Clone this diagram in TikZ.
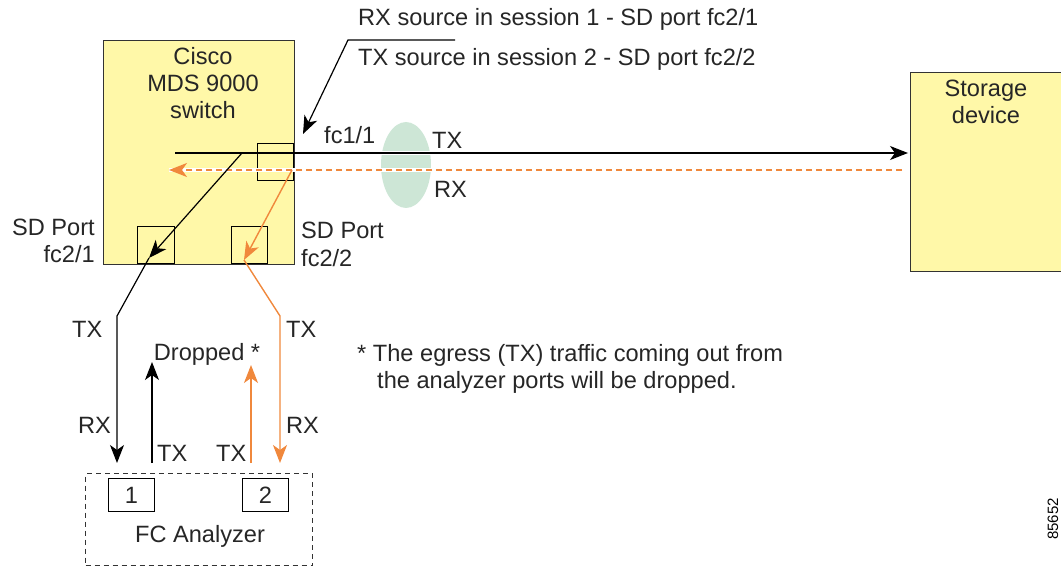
\documentclass[tikz,border=0pt]{standalone}
\usepackage{fontspec}
\setmainfont{Liberation Sans}
\usetikzlibrary{arrows.meta,shapes.geometric}
\definecolor{swyellow}{HTML}{FFF8A8}
\definecolor{ciscoorange}{HTML}{F0883C}
\definecolor{ellgreen}{HTML}{CDE6D6}
\definecolor{edgegray}{HTML}{333333}
\tikzset{
  lbl/.style={font=\fontsize{23.6}{27}\selectfont, inner sep=0pt, text=black!85},
  devbox/.style={draw=edgegray, fill=swyellow, line width=1pt},
  portbox/.style={draw=black, line width=1pt},
  blk/.style={draw=black, line width=1.2pt},
  org/.style={draw=ciscoorange, line width=1.4pt},
  tip/.style={-{Stealth[length=18pt,width=14pt,inset=5pt]}},
  halo/.style={draw=white, line width=4pt},
}
\begin{document}
\begin{tikzpicture}[x=1pt,y=-1pt]
\useasboundingbox (0,0) rectangle (1061,567);
% switch
\node[devbox, minimum width=191pt, minimum height=224pt, inner sep=0pt, anchor=north west] (sw) at (103,40) {};
\node[lbl, align=center, anchor=north] (swl) at (203,47) {Cisco\\MDS 9000\\switch};
\node[portbox, minimum width=36pt, minimum height=37pt, inner sep=0pt, anchor=north west] (p11) at (257,143) {};
\node[portbox, minimum width=37pt, minimum height=37pt, inner sep=0pt, anchor=north west] (p21) at (137,226) {};
\node[portbox, minimum width=36pt, minimum height=37pt, inner sep=0pt, anchor=north west] (p22) at (231,226) {};
% storage
\begin{scope}
\clip (0,0) rectangle (1061,567);
\node[devbox, minimum width=155pt, minimum height=199pt, inner sep=0pt, anchor=north west] (st) at (910,72) {};
\end{scope}
\node[lbl, align=center, anchor=north] (stl) at (986,80) {Storage\\device};
% ellipse
\node[fill=ellgreen, ellipse, minimum width=50pt, minimum height=86pt, inner sep=0pt] (ell) at (406,165) {};
% labels near link
\node[lbl, anchor=base west] (fc11) at (324,144) {fc1/1};
\node[lbl, anchor=base west] (tx0) at (432,149) {TX};
\node[lbl, anchor=base west] (rx0) at (434,197) {RX};
% coordinates for TX / RX link
\coordinate (txs) at (175,153);
\coordinate (txe) at (908,153);
\coordinate (rxs) at (902,170);
\coordinate (rxe) at (169,170);
\coordinate (txb) at (242,153);
\coordinate (rxb) at (292,170);
% halos over ellipse
\draw[halo] (378,153) -- (434,153);
\draw[halo] (rxs) -- (rxe);
% TX line
\draw[blk, tip] (txs) -- (txe);
% RX dashed line
\draw[org, dash pattern=on 6pt off 4pt, tip] (rxs) -- (rxe);
% black path to SD fc2/1 and analyzer port 1
\coordinate (a1) at (149,258);
\coordinate (k1) at (117,316);
\coordinate (in1) at (117,463);
\draw[blk, tip] (txb) -- (a1);
\draw[blk, tip] (a1) -- (k1) -- (in1);
% orange path
\coordinate (a2) at (244,260);
\coordinate (k2) at (280,316);
\coordinate (in2) at (280,463);
\draw[org, tip] (rxb) -- (a2);
\draw[org, tip] (a2) -- (k2) -- (in2);
% analyzer
\node[draw=edgegray, dash pattern=on 5pt off 4pt, line width=1pt, minimum width=227pt, minimum height=92pt, inner sep=0pt, anchor=north west] (an) at (85,473) {};
\node[portbox, lbl, minimum width=46pt, minimum height=33pt, anchor=north west] (ap1) at (108,478) {1};
\node[portbox, lbl, minimum width=46pt, minimum height=33pt, anchor=north west] (ap2) at (242,478) {2};
\node[lbl, anchor=base] (anl) at (200,542) {FC Analyzer};
% dropped arrows
\coordinate (d1s) at (152,463);
\coordinate (d1e) at (152,362);
\coordinate (d2s) at (251,463);
\coordinate (d2e) at (251,365);
\draw[blk, tip] (d1s) -- (d1e);
\draw[org, tip] (d2s) -- (d2e);
\node[lbl, anchor=base] (drop) at (207,360) {Dropped *};
% side labels
\node[lbl, anchor=base east] (sd1a) at (95,236) {SD Port};
\node[lbl, anchor=base east] (sd1b) at (95,262) {fc2/1};
\node[lbl, anchor=base west] (sd2a) at (301,238) {SD Port};
\node[lbl, anchor=base west] (sd2b) at (301,266) {fc2/2};
\node[lbl, anchor=base west] (tx1) at (72,337) {TX};
\node[lbl, anchor=base west] (tx2) at (286,337) {TX};
\node[lbl, anchor=base west] (rx1) at (78,433) {RX};
\node[lbl, anchor=base west] (rx2) at (286,433) {RX};
\node[lbl, anchor=base west] (tx3) at (157,461) {TX};
\node[lbl, anchor=base west] (tx4) at (216,461) {TX};
% note
\node[lbl, anchor=base west] (note1) at (357,361) {* The egress (TX) traffic coming out from};
\node[lbl, anchor=base west] (note2) at (377,388) {the analyzer ports will be dropped.};
% callout
\node[lbl, anchor=base west] (c1) at (358,26) {RX source in session 1 - SD port fc2/1};
\node[lbl, anchor=base west] (c2) at (358,66) {TX source in session 2 - SD port fc2/2};
\coordinate (cl1) at (455,40);
\coordinate (cl2) at (348,40);
\coordinate (cl3) at (303,134);
\draw[blk, tip] (cl1) -- (cl2) -- (cl3);
% figure number
\node[font=\fontsize{15}{17}\selectfont, rotate=90, inner sep=0pt] (fig) at (1053,519) {85652};
\end{tikzpicture}
\end{document}
